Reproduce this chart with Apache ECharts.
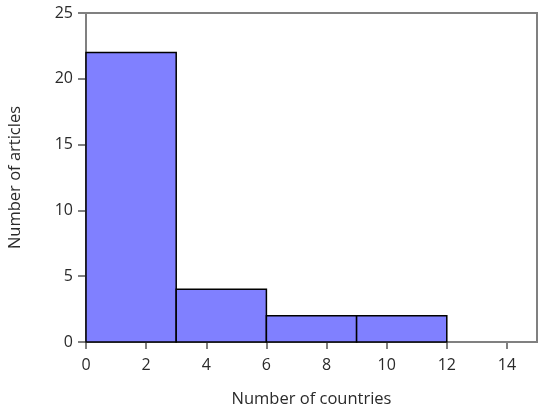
<!DOCTYPE html>
<html>
<head>
<meta charset="utf-8">
<script src="https://cdn.jsdelivr.net/npm/echarts@6/dist/echarts.min.js"></script>
<style>
  html, body { margin: 0; padding: 0; background: #fff; }
  #chart { width: 550px; height: 412px; }
</style>
</head>
<body>
<div id="chart"></div>
<script>
// histogram bins: [start, end) and counts
const binStarts = [0, 3, 6, 9];
const binEnds = [3, 6, 9, 12];
const counts = [22, 4, 2, 2];

const xTicks = [0, 2, 4, 6, 8, 10, 12, 14];
const yTicks = [0, 5, 10, 15, 20, 25];

const xTitle = 'Number of countries';
const yTitle = 'Number of articles';

const data = binStarts.map((s, i) => [s, binEnds[i], counts[i]]);

const chart = echarts.init(document.getElementById('chart'));
const font = '"Open Sans", "DejaVu Sans", sans-serif';
const txt = '#2a2a2a';

chart.setOption({
  animation: false,
  grid: {
    left: 86, right: 13, top: 13, bottom: 70,
    outerBoundsMode: 'none', containLabel: false,
    show: true, borderColor: '#808080', borderWidth: 2, backgroundColor: 'transparent'
  },
  xAxis: {
    type: 'value', min: 0, max: 15,
    name: xTitle, nameLocation: 'middle', nameGap: 49,
    nameTextStyle: { fontFamily: font, fontSize: 16.5, color: txt },
    axisLine: { show: true, onZero: false, lineStyle: { color: '#808080', width: 2 } },
    axisTick: { show: true, length: 7, customValues: xTicks, lineStyle: { color: '#808080', width: 2 } },
    axisLabel: { fontFamily: font, fontSize: 16, color: txt, margin: 15, customValues: xTicks },
    splitLine: { show: false }
  },
  yAxis: {
    type: 'value', min: 0, max: 25, interval: 5,
    name: yTitle, nameLocation: 'middle', nameGap: 62, nameRotate: 90,
    nameTextStyle: { fontFamily: font, fontSize: 16.5, color: txt },
    axisLine: { show: true, lineStyle: { color: '#808080', width: 2 } },
    axisTick: { show: true, length: 8, customValues: yTicks, lineStyle: { color: '#808080', width: 2 } },
    axisLabel: { fontFamily: font, fontSize: 16, color: txt, margin: 13, customValues: yTicks },
    splitLine: { show: false }
  },
  series: [{
    type: 'custom',
    data: data,
    encode: { x: [0, 1], y: 2 },
    renderItem: (params, api) => {
      const p0 = api.coord([api.value(0), api.value(2)]);
      const p1 = api.coord([api.value(1), 0]);
      return {
        type: 'rect',
        shape: { x: p0[0], y: p0[1], width: p1[0] - p0[0], height: p1[1] - p0[1] },
        style: { fill: '#8080ff', stroke: '#000', lineWidth: 1.5 }
      };
    }
  }]
});
</script>
</body>
</html>
